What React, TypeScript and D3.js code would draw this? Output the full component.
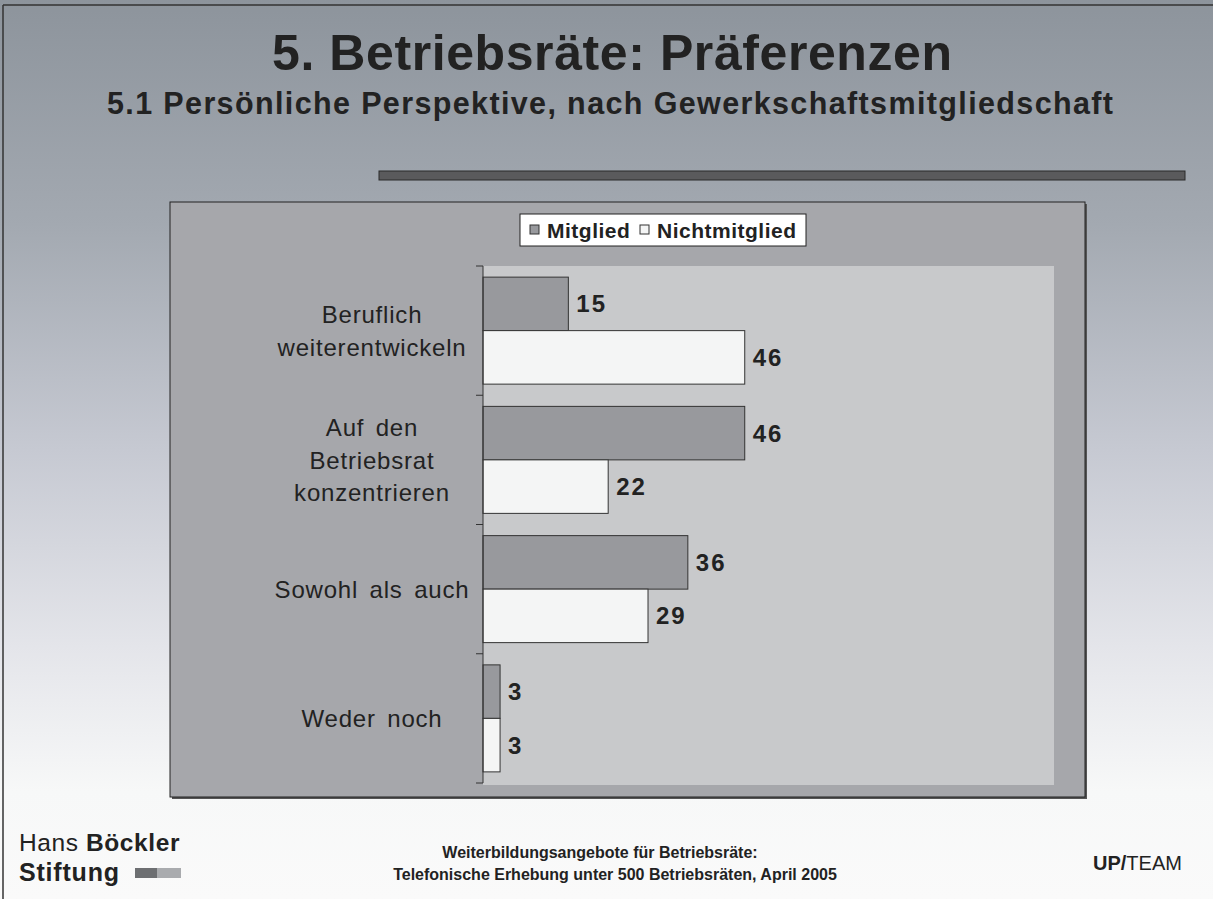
import React from "react";
import * as d3 from "d3";

// chart values
const categories = ["Beruflich weiterentwickeln", "Auf den Betriebsrat konzentrieren", "Sowohl als auch", "Weder noch"];
const categoryLines = [["Beruflich", "weiterentwickeln"], ["Auf den", "Betriebsrat", "konzentrieren"], ["Sowohl als auch"], ["Weder noch"]];
const seriesNames = ["Mitglied", "Nichtmitglied"];
const mitglied = [15, 46, 36, 3];
const nichtmitglied = [46, 22, 29, 3];

const W = 1213;
const H = 899;
const font = "'Liberation Sans', Arial, Helvetica, sans-serif";
const ink = "#222";
const fills = ["#98999d", "#f4f5f5"];

export default function App() {
	const plot = { left: 483, right: 1054, top: 266, bottom: 785 };

	const x = d3.scaleLinear().domain([0, 100]).range([plot.left, 1052]);
	const y = d3.scaleBand<string>().domain(categories).range([plot.top, 783]);
	const sub = d3.scaleBand<string>().domain(seriesNames).range([0, y.bandwidth()]).paddingOuter(0.208);

	const values = [mitglied, nichtmitglied];
	const tickYs = categories.map((c) => y(c) as number).concat([y.range()[1]]);

	return (
		<svg width={W} height={H} style={{ position: "absolute", left: 0, top: 0 }} fontFamily={font}>
			<defs>
				<linearGradient id="bg" x1="0" y1="0" x2="0" y2="1">
					<stop offset="0" stopColor="#8d949c" />
					<stop offset="0.25" stopColor="#a3a9b1" />
					<stop offset="0.5" stopColor="#c6c9d2" />
					<stop offset="0.72" stopColor="#e4e5ea" />
					<stop offset="0.88" stopColor="#f7f8f8" />
					<stop offset="1" stopColor="#fafafa" />
				</linearGradient>
			</defs>
			<rect x={0} y={0} width={W} height={H} fill="url(#bg)" />
			<line x1={3} y1={5} x2={W} y2={5} stroke="#333" strokeWidth={1.5} />
			<line x1={3} y1={5} x2={3} y2={H} stroke="#333" strokeWidth={1.5} />

			{/* titles */}
			<text x={612} y={70} textAnchor="middle" fontSize={50} fontWeight="bold" fill={ink} textLength={680} lengthAdjust="spacing">
				5. Betriebsräte: Präferenzen
			</text>
			<text x={610} y={114} textAnchor="middle" fontSize={30.5} fontWeight="bold" fill={ink} textLength={1006} lengthAdjust="spacing">
				5.1 Persönliche Perspektive, nach Gewerkschaftsmitgliedschaft
			</text>
			<rect x={379} y={171} width={806} height={9} fill="#5a5a5c" stroke="#2a2a2a" strokeWidth={1} />

			{/* chart frame */}
			<rect x={172} y={204} width={915} height={595} fill="#555" />
			<rect x={170} y={202} width={915} height={595} fill="#a6a7ab" stroke="#222" strokeWidth={1} />
			<rect x={plot.left} y={plot.top} width={plot.right - plot.left} height={plot.bottom - plot.top} fill="#c8c9cb" />

			{/* legend */}
			<g>
				<rect x={520} y={214} width={286} height={32} fill="#fff" stroke="#222" strokeWidth={1} />
				{seriesNames.map((s, i) => {
					const sx = i === 0 ? 530 : 640;
					return (
						<g key={s}>
							<rect x={sx} y={225} width={9} height={9} fill={fills[i]} stroke="#333" strokeWidth={1} />
							<text x={sx + 17} y={238} fontSize={21} fontWeight="bold" fill={ink} letterSpacing={0.5}>
								{s}
							</text>
						</g>
					);
				})}
			</g>

			{/* bars */}
			{categories.map((c, ci) => (
				<g key={c} transform={`translate(0,${y(c)})`}>
					{seriesNames.map((s, si) => {
						const v = values[si][ci];
						const by = sub(s) as number;
						return (
							<g key={s}>
								<rect x={x(0)} y={by} width={x(v) - x(0)} height={sub.bandwidth()} fill={fills[si]} stroke="#333" strokeWidth={1} />
								<text x={x(v) + 8} y={by + sub.bandwidth() / 2 + 8.5} fontSize={24} fontWeight="bold" letterSpacing={2} fill={ink}>
									{v}
								</text>
							</g>
						);
					})}
				</g>
			))}

			{/* axis */}
			<line x1={plot.left} y1={y.range()[0]} x2={plot.left} y2={y.range()[1]} stroke="#333" strokeWidth={1} />
			{tickYs.map((t, i) => (
				<line key={i} x1={plot.left - 7} y1={t} x2={plot.left} y2={t} stroke="#333" strokeWidth={1} />
			))}
			{categories.map((c, ci) => {
				const lines = categoryLines[ci];
				const cy = (y(c) as number) + y.bandwidth() / 2;
				return (
					<text key={c} textAnchor="middle" fontSize={24} fill={ink} letterSpacing={0.8} wordSpacing={4}>
						{lines.map((l, li) => (
							<tspan key={li} x={372} y={cy + 9 + (li - (lines.length - 1) / 2) * 32.5}>
								{l}
							</tspan>
						))}
					</text>
				);
			})}

			{/* footer */}
			<text x={19} y={851} fontSize={24.5} fill={ink} letterSpacing={0.6}>
				Hans <tspan fontWeight="bold">Böckler</tspan>
			</text>
			<text x={19} y={881} fontSize={25} fontWeight="bold" fill={ink} letterSpacing={0.8}>
				Stiftung
			</text>
			<rect x={135} y={868} width={22} height={10} fill="#6d6f72" />
			<rect x={157} y={868} width={24} height={10} fill="#a9abae" />
			<text x={600} y={858} textAnchor="middle" fontSize={16} fontWeight="bold" fill={ink}>
				Weiterbildungsangebote für Betriebsräte:
			</text>
			<text x={615} y={880} textAnchor="middle" fontSize={16} fontWeight="bold" fill={ink}>
				Telefonische Erhebung unter 500 Betriebsräten, April 2005
			</text>
			<text x={1093} y={870} fontSize={20} fill={ink}>
				<tspan fontWeight="bold">UP/</tspan>TEAM
			</text>
		</svg>
	);
}
